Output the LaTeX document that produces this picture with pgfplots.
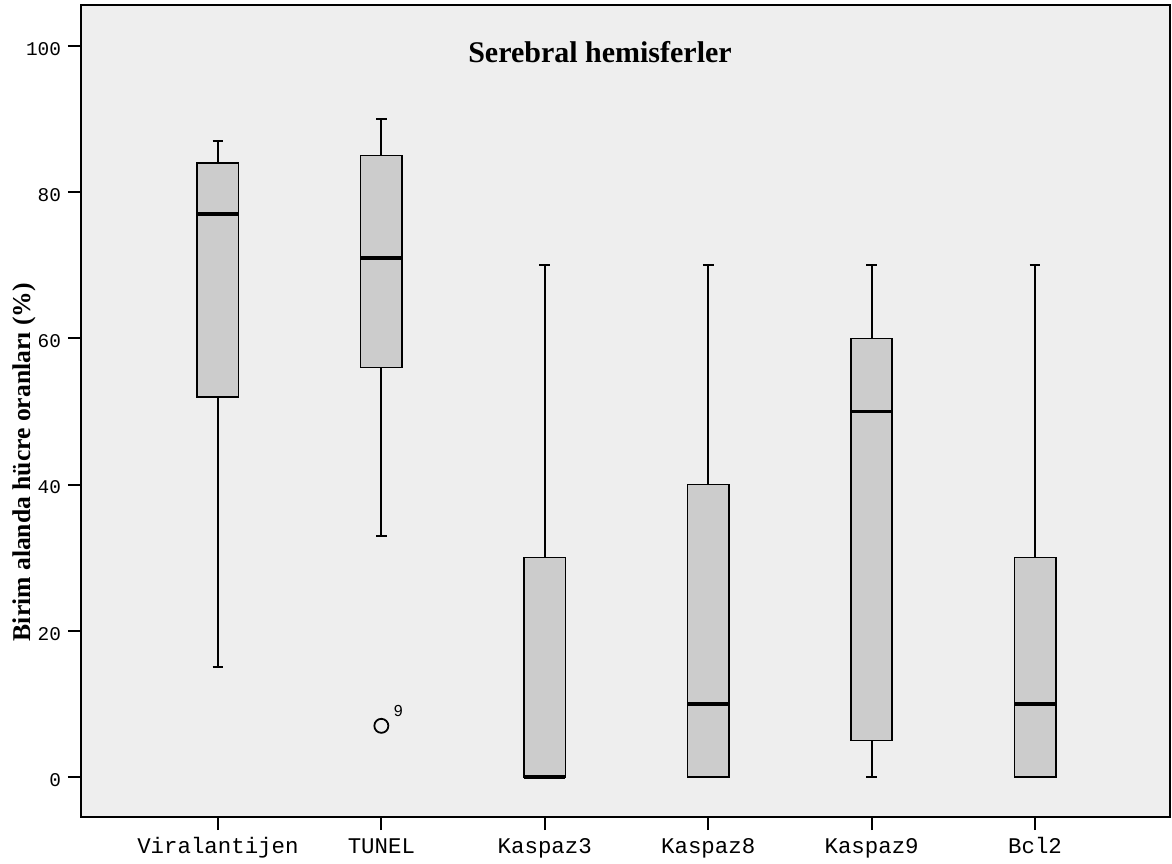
\documentclass[border=0pt]{standalone}
\usepackage{pgfplots}
\pgfplotsset{compat=1.18}
\usepgfplotslibrary{statistics}
\usepackage{fontspec}
\setmainfont{Liberation Serif}
\setmonofont{Liberation Mono}
\newfontfamily\sansnum{Liberation Sans}
\definecolor{bg}{HTML}{EEEEEE}
\definecolor{boxfill}{HTML}{CCCCCC}
\begin{document}
\begin{tikzpicture}
\begin{axis}[
  scale only axis, width=544.5pt, height=406pt,
  xmin=-0.838, xmax=5.826, ymin=-5.47, ymax=105.6,
  axis background/.style={fill=bg},
  axis line style={line width=1pt},
  xtick pos=left, ytick pos=left,
  tick align=outside, major tick length=6.5pt,
  tick style={line width=1pt, black},
  xtick={0,...,5},
  xticklabels={Viralantijen,TUNEL,Kaspaz3,Kaspaz8,Kaspaz9,Bcl2},
  ytick={0,20,...,100},
  /pgf/number format/assume math mode=true,
  xticklabel style={font=\ttfamily\fontsize{11.2}{13}\selectfont, text height=1.6ex, text depth=0.4ex, yshift=-1pt},
  yticklabel style={font=\ttfamily\fontsize{9.7}{12}\selectfont, yshift=-1.5pt},
  ylabel={Birim alanda hücre oranları (\%)},
  ylabel style={font=\bfseries\fontsize{12.8}{15}\selectfont, at={(axis description cs:-0.0523,0.437)}, anchor=center},
  boxplot/draw direction=y,
  boxplot/box extend=0.253,
  boxplot/whisker extend=0.065,
  boxplot/every box/.style={draw=black, line width=0.8pt, fill=boxfill},
  boxplot/every median/.style={line width=1.6pt},
  boxplot/every whisker/.style={line width=1pt},
  clip=false,
]
\addplot[black, boxplot prepared={draw position=0, lower whisker=15, lower quartile=52, median=77, upper quartile=84, upper whisker=87}] coordinates {};
\addplot[black, mark=o, mark size=3.5pt, mark options={line width=0.9pt, black},
  boxplot prepared={draw position=1, lower whisker=33, lower quartile=56, median=71, upper quartile=85, upper whisker=90}]
  table[row sep=\\, y index=0] {data\\ 7\\};
\addplot[black, boxplot prepared={draw position=2, lower whisker=0, lower quartile=0, median=0, upper quartile=30, upper whisker=70}] coordinates {};
\addplot[black, boxplot prepared={draw position=3, lower whisker=0, lower quartile=0, median=10, upper quartile=40, upper whisker=70}] coordinates {};
\addplot[black, boxplot prepared={draw position=4, lower whisker=0, lower quartile=5, median=50, upper quartile=60, upper whisker=70}] coordinates {};
\addplot[black, boxplot prepared={draw position=5, lower whisker=0, lower quartile=0, median=10, upper quartile=30, upper whisker=70}] coordinates {};
\node[font=\bfseries\fontsize{15}{18}\selectfont, anchor=base] at (axis cs:2.338,97.7) {Serebral hemisferler};
\node[font=\sansnum\fontsize{8}{9}\selectfont] at (axis cs:1.104,9) {9};
\end{axis}
\pgfresetboundingbox
\path[use as bounding box] (current axis.south west) ++(-40.5pt,-23pt) rectangle ([shift={(1pt,2.5pt)}]current axis.north east);
\end{tikzpicture}
\end{document}
